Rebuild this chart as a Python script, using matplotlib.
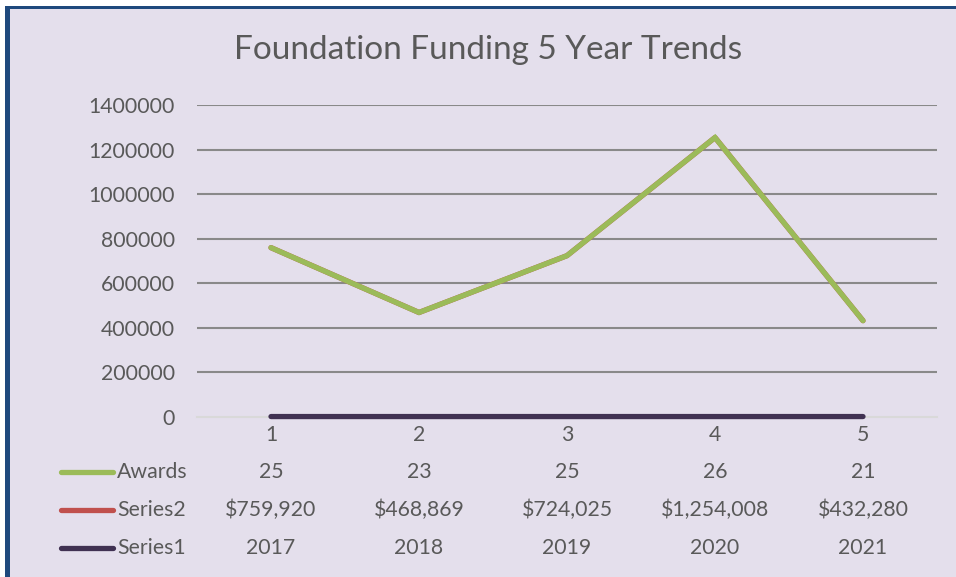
import matplotlib
matplotlib.use("Agg")
import matplotlib.pyplot as plt
from matplotlib.patches import Rectangle
from matplotlib.transforms import blended_transform_factory
from matplotlib.lines import Line2D

categories = [1, 2, 3, 4, 5]
awards = [25, 23, 25, 26, 21]
series2 = [759920, 468869, 724025, 1254008, 432280]
series1 = [2017, 2018, 2019, 2020, 2021]
series2_labels = ["$759,920", "$468,869", "$724,025", "$1,254,008", "$432,280"]
yticks = [0, 200000, 400000, 600000, 800000, 1000000, 1200000, 1400000]
title = "Foundation Funding 5 Year Trends"

W, H = 956, 577
BG = "#E4DFEC"
TXT = "#595959"
GREEN = "#9BBB59"
RED = "#C0504D"
PURPLE = "#403152"
BLUE = "#1F497D"
FONT = "Lato"
FS = 15.3

fig = plt.figure(figsize=(W / 100, H / 100), dpi=100, facecolor="white")

def fx(px):
    return px / W

def fy(py):
    return 1 - py / H

# chart frame
fig.add_artist(Rectangle((fx(5), fy(H + 10)), 2, fy(6) - fy(H + 10),
                         transform=fig.transFigure, facecolor=BLUE, edgecolor="none", zorder=-5))
fig.add_artist(Rectangle((fx(10), fy(H + 10)), 2, fy(9) - fy(H + 10),
                         transform=fig.transFigure, facecolor=BG, edgecolor="none", zorder=-4))

ax = fig.add_axes([fx(197), fy(417), fx(937) - fx(197), fy(105) - fy(417)])
ax.set_zorder(2)
ax.set_facecolor("none")
ax.set_xlim(0.5, 5.5)
ax.set_ylim(0, 1400000)
for s in ax.spines.values():
    s.set_visible(False)

ax.set_yticks(yticks)
ax.set_yticklabels([str(v) for v in yticks], fontsize=FS, color=TXT, fontname=FONT)
ax.tick_params(axis="y", length=0, pad=16)
ax.set_xticks([])

for v in yticks:
    if v == 0:
        ax.axhline(v, color="#D9D9D9", lw=1.5, zorder=1, clip_on=False)
    else:
        ax.axhline(v, color="#898989", lw=1.5, zorder=1)

ax.plot(categories, series1, color=PURPLE, lw=3.8, solid_capstyle="round", zorder=3, clip_on=False)
ax.plot(categories, series2, color=RED, lw=3.8, solid_capstyle="round", zorder=3)
ax.plot(categories, series2, color=GREEN, lw=3.8, solid_capstyle="round",
        solid_joinstyle="miter", zorder=4)

fig.text(fx(488), fy(50), title, ha="center", va="center",
         fontsize=24, color=TXT, fontname=FONT, zorder=3)

tr = blended_transform_factory(ax.transData, fig.transFigure)
for c in categories:
    ax.text(c, fy(435), str(c), transform=tr, ha="center", va="center", fontsize=FS, color=TXT, fontname=FONT)

rows = [
    ("Awards", GREEN, [str(v) for v in awards], 472),
    ("Series2", RED, series2_labels, 510),
    ("Series1", PURPLE, [str(v) for v in series1], 548),
]
for name, col, vals, ypx in rows:
    fig.add_artist(Line2D([fx(61), fx(113)], [fy(ypx), fy(ypx)], transform=fig.transFigure,
                          color=col, lw=3.8, solid_capstyle="round", zorder=3))
    fig.text(fx(117), fy(ypx), name, ha="left", va="center", fontsize=FS, color=TXT, fontname=FONT, zorder=3)
    for c, v in zip(categories, vals):
        ax.text(c, fy(ypx), v, transform=tr, ha="center", va="center", fontsize=FS, color=TXT, fontname=FONT)

fig.savefig("out.png", dpi=100, facecolor="white")
